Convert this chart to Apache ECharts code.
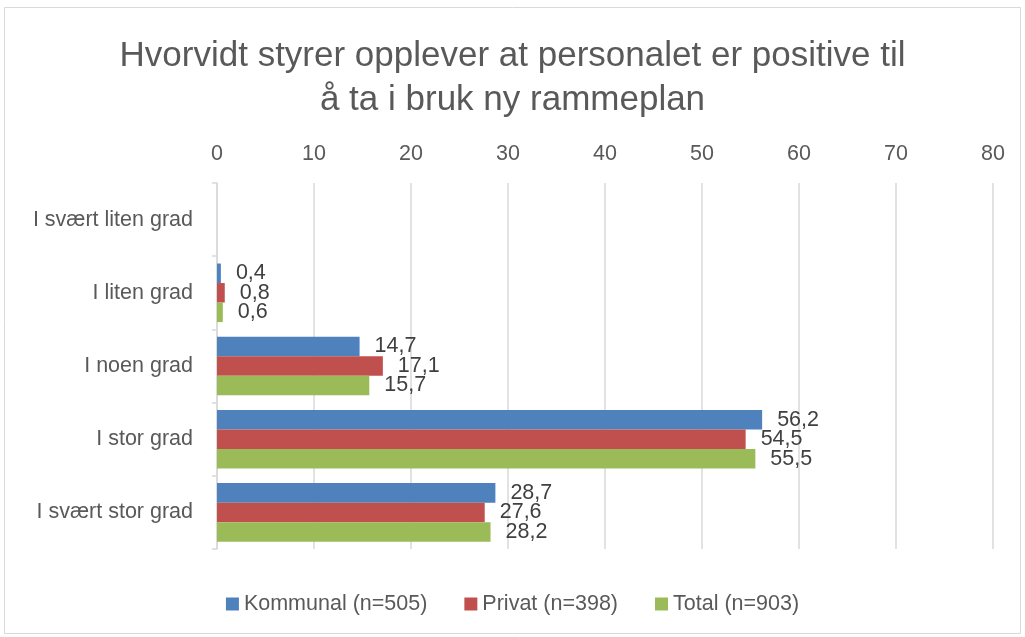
<!DOCTYPE html>
<html><head><meta charset="utf-8">
<script src="https://cdn.jsdelivr.net/npm/echarts@6/dist/echarts.min.js"></script>
<style>html,body{margin:0;padding:0;background:#fff}#c{width:1025px;height:637px}</style>
</head><body><div id="c"></div>
<script>
const titleText = 'Hvorvidt styrer opplever at personalet er positive til\nå ta i bruk ny rammeplan';
const categories = ['I svært liten grad','I liten grad','I noen grad','I stor grad','I svært stor grad'];
const seriesNames = ['Kommunal (n=505)','Privat (n=398)','Total (n=903)'];
const kommunal = [null, 0.4, 14.7, 56.2, 28.7];
const privat   = [null, 0.8, 17.1, 54.5, 27.6];
const total    = [null, 0.6, 15.7, 55.5, 28.2];
const colors = ['#4F81BD','#C0504D','#9BBB59'];
const FONT = 'Liberation Sans';

const chart = echarts.init(document.getElementById('c'), null, {renderer:'canvas'});
const mk = (name, data, color) => ({
  name, type:'bar', data, barGap:'0%', barCategoryGap:'20%',
  itemStyle:{color},
  label:{show:true, position:'right', distance:15, color:'#404040', fontFamily:FONT, fontSize:21.5,
    formatter:p => p.value == null ? '' : String(p.value.toFixed(1)).replace('.', ',')}
});
chart.setOption({
  animation:false,
  title:{text:titleText, left:'center', top:29, textStyle:{fontFamily:FONT, fontSize:35, fontWeight:'normal', color:'#595959', lineHeight:44}},
  legend:{top:588, left:'center', itemWidth:13, itemHeight:13, itemGap:37, icon:'rect',
    textStyle:{fontFamily:FONT, fontSize:21.5, color:'#595959'}},
  grid:{left:217, right:32, top:183, bottom:88, containLabel:false},
  xAxis:{type:'value', position:'top', min:0, max:80, interval:10,
    axisLine:{show:false}, axisTick:{show:false},
    axisLabel:{fontFamily:FONT, fontSize:21.5, color:'#595959', margin:18},
    splitLine:{lineStyle:{color:'#D9D9D9', width:1.5}}},
  yAxis:{type:'category', data:categories, inverse:true,
    axisLine:{lineStyle:{color:'#D9D9D9', width:1.5}},
    axisTick:{show:true, length:5, lineStyle:{color:'#D9D9D9', width:1.5}},
    axisLabel:{fontFamily:FONT, fontSize:21.5, color:'#595959', margin:24}},
  series:[mk(seriesNames[0], kommunal, colors[0]), mk(seriesNames[1], privat, colors[1]), mk(seriesNames[2], total, colors[2])],
  graphic:[{type:'rect', shape:{x:4.5, y:7.5, width:1016, height:626}, style:{fill:'none', stroke:'#D9D9D9', lineWidth:1}, silent:true}]
});
</script></body></html>
